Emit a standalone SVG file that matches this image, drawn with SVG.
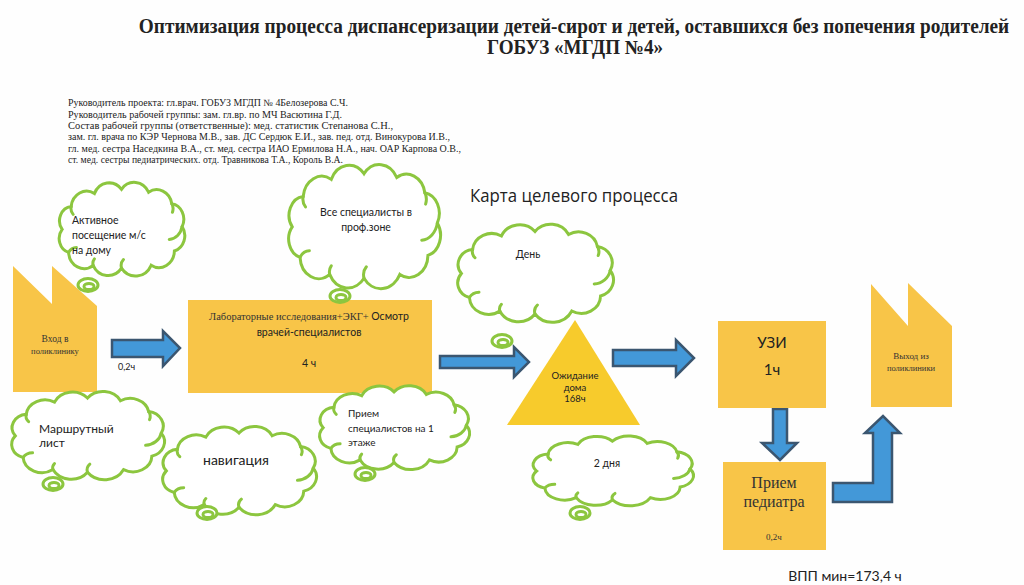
<svg xmlns="http://www.w3.org/2000/svg" xmlns:xlink="http://www.w3.org/1999/xlink" width="1024" height="585" viewBox="0 0 1024 585">
<style>
.title{font-family:"Liberation Serif","Times New Roman",serif;font-weight:bold;font-size:20px;fill:#222}
.hdr{font-family:"Liberation Serif","Times New Roman",serif;font-size:9.5px;fill:#222}
.ser{font-family:"Liberation Serif","Times New Roman",serif;fill:#333}
.sans{font-family:Lato,"Open Sans","Liberation Sans",sans-serif;fill:#222}
.box{fill:#f8c548}
.tri{fill:#f7cb2c}
.arrow{fill:#4398d8;stroke:#3b5670;stroke-width:2.5;stroke-linejoin:miter}
.cloud{fill:#fff;stroke:#8cc63f;stroke-width:3;stroke-linecap:round}
.cl{fill:none;stroke:#8cc63f;stroke-width:3;stroke-linecap:round}
</style>
<defs>
<path id="cloudOutline" d="M8,62 A20,20 0 0 1 22,30 A24,24 0 0 1 58,12 A25,25 0 0 1 100,6 A25,25 0 0 1 142,10 A24,24 0 0 1 178,26 A22,22 0 0 1 194,58 A22,22 0 0 1 182,92 A24,24 0 0 1 146,112 A27,27 0 0 1 100,116 A26,26 0 0 1 56,112 A24,24 0 0 1 18,94 A20,20 0 0 1 8,62 Z" vector-effect="non-scaling-stroke"/>
<path id="cloudInner" d="M22,30 A12,12 0 0 0 25,41 M178,26 A14,14 0 0 1 179,38 M194,58 A22,22 0 0 1 174,76 M100,116 A12,12 0 0 1 103,104 M56,112 A10,10 0 0 1 58,103 M18,94 A14,14 0 0 1 30,87" vector-effect="non-scaling-stroke"/>
<g id="tail">
<ellipse cx="0" cy="0" rx="10" ry="6.5" class="cloud"/>
<ellipse cx="1" cy="1.5" rx="5" ry="3" class="cl" stroke-width="2"/>
</g>
</defs>
<rect width="1024" height="585" fill="#fefefe"/>

<g id="title">
<text class="title" transform="translate(574 33) scale(0.88 1)" x="0" y="0" text-anchor="middle" textLength="989" lengthAdjust="spacingAndGlyphs">Оптимизация процесса диспансеризации детей-сирот и детей, оставшихся без попечения родителей</text>
<text class="title" x="575" y="54" text-anchor="middle" textLength="176" lengthAdjust="spacingAndGlyphs">ГОБУЗ «МГДП №4»</text>
</g>

<g id="header">
<text class="hdr" x="68" y="106" textLength="280" lengthAdjust="spacingAndGlyphs">Руководитель проекта: гл.врач. ГОБУЗ МГДП № 4Белозерова С.Ч.</text>
<text class="hdr" x="68" y="117.5" textLength="274" lengthAdjust="spacingAndGlyphs">Руководитель рабочей группы: зам. гл.вр. по МЧ Васютина Г.Д.</text>
<text class="hdr" x="68" y="129" textLength="325" lengthAdjust="spacingAndGlyphs">Состав рабочей группы (ответственные): мед. статистик Степанова С.Н.,</text>
<text class="hdr" x="68" y="140" textLength="382" lengthAdjust="spacingAndGlyphs">зам. гл.  врача по КЭР Чернова М.В., зав. ДС Сердюк Е.И., зав. пед. отд. Винокурова И.В.,</text>
<text class="hdr" x="68" y="151.5" textLength="393" lengthAdjust="spacingAndGlyphs">гл. мед. сестра  Наседкина В.А., ст. мед. сестра  ИАО Ермилова Н.А.,  нач. ОАР Карпова О.В.,</text>
<text class="hdr" x="68" y="163" textLength="275" lengthAdjust="spacingAndGlyphs">ст. мед. сестры педиатрических. отд. Травникова Т.А., Король В.А.</text>
</g>

<g id="map-title">
<text class="sans" x="574" y="202" text-anchor="middle" font-size="19" textLength="208" lengthAdjust="spacingAndGlyphs" style="font-family:'Open Sans',Lato,sans-serif">Карта целевого процесса</text>
</g>

<g id="connectors">
<polygon class="arrow" points="112,340 163,340 163,331 180,348 163,366 163,357 112,357"/>
<polygon class="arrow" points="440,356 514,356 514,347 529,362 514,377 514,368 440,368"/>
<polygon class="arrow" points="613,350 676,350 676,340 694,358 676,376 676,366 613,366"/>
<polygon class="arrow" points="773,409 787,409 787,443 797,443 780,460 762,443 773,443"/>
<polygon class="arrow" points="833,483 873,483 873,433 865,433 883,416 900,433 892,433 892,502 833,502"/>
</g>

<g id="entrance">
<polygon class="box" points="13,266 52,304 52,266 97,306 97,392 13,392"/>
<text class="ser" x="55" y="342" text-anchor="middle" font-size="9.5">Вход в</text>
<text class="ser" x="55" y="354" text-anchor="middle" font-size="8.5">поликлинику</text>
</g>
<text id="t1" class="sans" x="118" y="370" font-size="9">0,2ч</text>

<g id="lab">
<rect class="box" x="188" y="300" width="244" height="93"/>
<text x="309" y="320" text-anchor="middle" font-size="10.5"><tspan class="ser">Лабораторные исследования+ЭКГ+ </tspan><tspan class="sans">Осмотр</tspan></text>
<text class="sans" x="309" y="336" text-anchor="middle" font-size="10.5">врачей-специалистов</text>
<text class="sans" x="309" y="367" text-anchor="middle" font-size="10.5">4 ч</text>
</g>

<g id="wait">
<polygon class="tri" points="575,320 640,425 507,425"/>
<text class="sans" x="575" y="379" text-anchor="middle" font-size="9.5">Ожидание</text>
<text class="sans" x="575" y="391" text-anchor="middle" font-size="9.5">дома</text>
<text class="sans" x="575" y="402" text-anchor="middle" font-size="9.5">168ч</text>
</g>

<g id="uzi">
<rect class="box" x="718" y="321" width="108" height="87"/>
<text class="sans" x="772" y="348" text-anchor="middle" font-size="15">УЗИ</text>
<text class="sans" x="772" y="375" text-anchor="middle" font-size="15">1ч</text>
</g>

<g id="pediatrician">
<rect class="box" x="723" y="462" width="103" height="88"/>
<text class="ser" x="774" y="488" text-anchor="middle" font-size="16">Прием</text>
<text class="ser" x="774" y="507" text-anchor="middle" font-size="16">педиатра</text>
<text class="ser" x="774" y="540" text-anchor="middle" font-size="9">0,2ч</text>
</g>

<g id="exit">
<polygon class="box" points="871,284 908,326 908,283 952,326 952,407 871,407"/>
<text class="ser" x="911" y="359" text-anchor="middle" font-size="9">Выход  из</text>
<text class="ser" x="911" y="371" text-anchor="middle" font-size="8.5">поликлиники</text>
</g>

<g id="cloud-home">
<g transform="translate(57,185) scale(0.645,0.717)"><use href="#cloudOutline" class="cloud"/><use href="#cloudInner" class="cl"/></g>
<use href="#tail" x="88" y="285"/>
<text class="sans" x="72" y="224" font-size="10.5">Активное</text>
<text class="sans" x="72" y="239" font-size="10.5">посещение м/с</text>
<text class="sans" x="72" y="254" font-size="10.5">на дому</text>
</g>

<g id="cloud-specialists">
<g transform="translate(286,168) scale(0.78,0.95)"><use href="#cloudOutline" class="cloud"/><use href="#cloudInner" class="cl"/></g>
<use href="#tail" x="340" y="296"/>
<text class="sans" x="366" y="216" text-anchor="middle" font-size="10.5">Все специалисты в</text>
<text class="sans" x="366" y="231" text-anchor="middle" font-size="10.5">проф.зоне</text>
</g>

<g id="cloud-day">
<g transform="translate(455,227) scale(0.80,0.75)"><use href="#cloudOutline" class="cloud"/><use href="#cloudInner" class="cl"/></g>
<use href="#tail" x="502" y="341"/>
<text class="sans" x="528" y="258" text-anchor="middle" font-size="10.5">День</text>
</g>

<g id="cloud-route">
<g transform="translate(9,394) scale(0.785,0.675)"><use href="#cloudOutline" class="cloud"/><use href="#cloudInner" class="cl"/></g>
<use href="#tail" x="53" y="484"/>
<text class="sans" x="39" y="433" font-size="12">Маршрутный</text>
<text class="sans" x="39" y="447" font-size="12">лист</text>
</g>

<g id="cloud-navigation">
<g transform="translate(160,429) scale(0.79,0.675)"><use href="#cloudOutline" class="cloud"/><use href="#cloudInner" class="cl"/></g>
<use href="#tail" x="207" y="513"/>
<text class="sans" x="236" y="465" text-anchor="middle" font-size="14">навигация</text>
</g>

<g id="cloud-floor">
<g transform="translate(317,388) scale(0.77,0.642)"><use href="#cloudOutline" class="cloud"/><use href="#cloudInner" class="cl"/></g>
<use href="#tail" x="365" y="474"/>
<text class="sans" x="348" y="417" font-size="10">Прием</text>
<text class="sans" x="348" y="432" font-size="10">специалистов на 1</text>
<text class="sans" x="348" y="446" font-size="10">этаже</text>
</g>

<g id="cloud-2days">
<g transform="translate(530,438) scale(0.825,0.533)"><use href="#cloudOutline" class="cloud"/><use href="#cloudInner" class="cl"/></g>
<use href="#tail" x="580" y="513"/>
<text class="sans" x="607" y="467" text-anchor="middle" font-size="10.5">2 дня</text>
</g>

<g id="total">
<text class="sans" x="845" y="581" text-anchor="middle" font-size="14">ВПП мин=173,4 ч</text>
</g>
</svg>
